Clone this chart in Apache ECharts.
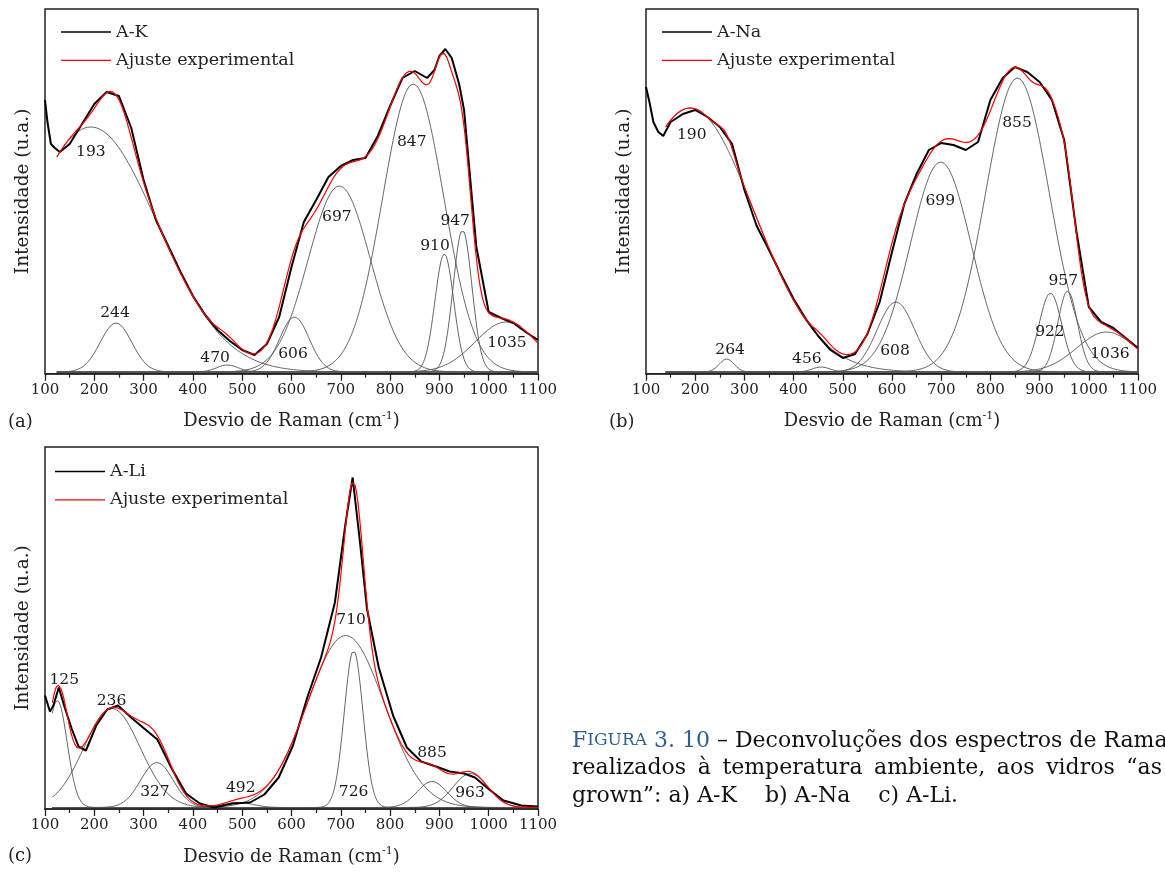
<!DOCTYPE html>
<html><head><meta charset="utf-8">
<script src="https://cdn.jsdelivr.net/npm/echarts@6/dist/echarts.min.js"></script>
<style>html,body{margin:0;padding:0;background:#fff;}#c{width:1165px;height:873px;}</style>
</head><body><div id="c"></div>
<script>
// ---------- DATA (intensities in arbitrary units) ----------
const xTickValues = [100,200,300,400,500,600,700,800,900,1000,1100];

// (a) A-K : fitted Gaussian bands (centre, peak height, sigma)
const aName = 'A-K';
const aCenters = [193,244,470,606,697,847,910,947,1035];
const aHeights = [245,49,7,55,186,288,118,142,50];
const aSigmas  = [135,32,22,30,63,62,19,19,62];
const aFitStart = 124;
const aExpX = [100,105,112,120,130,150,175,200,225,250,275,300,325,350,375,400,425,450,475,500,525,550,575,600,625,650,675,700,725,750,775,800,825,850,875,890,900,912,925,940,950,975,1000,1025,1050,1075,1100];
const aExpY = [272,250,228,224,220,228,248,268,280,276,244,192,152,126,100,76,57,42,31,22,17,28,55,105,150,172,195,206,212,214,236,266,294,301,294,302,316,323,314,288,262,125,60,54,49,40,32];

// (b) A-Na
const bName = 'A-Na';
const bCenters = [190,264,456,608,699,855,922,957,1036];
const bHeights = [264,13,5,70,210,294,79,81,40];
const bSigmas  = [130,15,18,38,62,65,23,20,60];
const bFitStart = 140;
const bExpX = [100,107,115,125,135,150,175,200,225,250,275,300,325,350,375,400,425,450,475,500,525,550,575,600,625,650,675,700,725,750,775,800,825,850,875,900,925,950,975,1000,1025,1050,1075,1100];
const bExpY = [285,270,250,240,236,250,258,262,255,245,228,182,146,122,97,73,53,36,22,14,18,38,70,120,168,198,222,229,227,222,230,272,294,305,300,290,272,232,140,65,50,44,34,24];

// (c) A-Li
const cName = 'A-Li';
const cCenters = [125,236,327,492,710,726,885,963];
const cHeights = [107,99,45,5,172,157,26,34];
const cSigmas  = [20,57,33,30,78,19,30,35];
const cFitStart = 115;
const cExpX = [100,110,117,128,140,154,168,183,204,226,248,277,306,328,357,386,414,443,480,516,545,574,603,632,660,688,709,724,739,753,777,806,834,863,893,921,950,972,1001,1030,1066,1100];
const cExpY = [112,96,102,120,100,79,61,57,82,98,102,89,77,68,39,14,4,0,4,5,13,30,62,110,150,205,282,330,265,199,140,92,60,46,41,36,34,30,18,7,2,1];

// ---------- LAYOUT (positions / styles) ----------
const LAYOUT = {
  grids: [
    {left:45, top:9, width:493, height:364.7, yMin:-1.7, yMax:363},
    {left:646, top:9, width:492, height:364.7, yMin:-1.7, yMax:363},
    {left:45, top:447, width:493, height:362, yMin:-1.5, yMax:360.5}
  ],
  legends: [{left:61, top:22},{left:662, top:22},{left:55, top:461.5}],
  letters: [{x:8, y:424, t:'(a)'},{x:609, y:424, t:'(b)'},{x:8, y:858, t:'(c)'}],
  // band label anchors in data units (x in cm-1, y in intensity units)
  labelPos: [
    [[193,220],[242,59],[445,14],[603,18],[692,155],[844,230],[891,126],[932,151],[1037,29]],
    [[193,237],[271,22],[427,13],[606,21],[698,171],[854,249],[921,40],[948,91],[1043,18]],
    [[139,128],[235,107],[323,16],[497,20],[721,188],[726,16],[885,55],[962,15]]
  ],
  caption: {left:572, right:1162, lines:[741,768,796]}
};

const FONT = '"DejaVu Serif", serif';
const TXT = '#222';

const panels = [
  {name:aName, centers:aCenters, heights:aHeights, sigmas:aSigmas, start:aFitStart, expX:aExpX, expY:aExpY},
  {name:bName, centers:bCenters, heights:bHeights, sigmas:bSigmas, start:bFitStart, expX:bExpX, expY:bExpY},
  {name:cName, centers:cCenters, heights:cHeights, sigmas:cSigmas, start:cFitStart, expX:cExpX, expY:cExpY}
];

function gauss(x,c,h,s){ return h*Math.exp(-((x-c)*(x-c))/(2*s*s)); }

const option = {animation:false, backgroundColor:'#fff', grid:[], xAxis:[], yAxis:[], series:[], legend:[], graphic:[]};

panels.forEach((p,i)=>{
  const g = LAYOUT.grids[i];
  option.grid.push({left:g.left, top:g.top, width:g.width, height:g.height, show:true,
    borderColor:'#222', borderWidth:1.5, backgroundColor:'rgba(0,0,0,0)'});
  option.xAxis.push({gridIndex:i, type:'value', min:xTickValues[0], max:xTickValues[xTickValues.length-1], interval:100,
    axisLine:{show:true, onZero:false, lineStyle:{color:'#222', width:1.5}},
    axisTick:{show:true, inside:false, length:7, lineStyle:{color:'#222', width:1.3}},
    minorTick:{show:true, splitNumber:2, length:4, lineStyle:{color:'#222', width:1.2}},
    splitLine:{show:false}, minorSplitLine:{show:false},
    axisLabel:{fontFamily:FONT, fontSize:15, color:TXT, margin:9, formatter:(v)=>String(v)},
    name:'Desvio de Raman (cm{sup|-1})', nameLocation:'middle', nameGap:37,
    nameTextStyle:{fontFamily:FONT, fontSize:18, color:TXT, lineHeight:22,
      rich:{sup:{fontFamily:FONT, fontSize:11, color:TXT, verticalAlign:'top', lineHeight:22}}}
  });
  option.yAxis.push({gridIndex:i, type:'value', min:g.yMin, max:g.yMax,
    axisLine:{show:false}, axisTick:{show:false}, axisLabel:{show:false}, splitLine:{show:false},
    name:'Intensidade (u.a.)', nameLocation:'middle', nameRotate:90, nameGap:12,
    nameTextStyle:{fontFamily:FONT, fontSize:18.5, color:TXT}
  });

  const xs = [];
  for (let x=p.start; x<=1100; x+=2) xs.push(x);
  const sum = xs.map(()=>0);
  p.centers.forEach((c,k)=>{
    const data = xs.map((x,j)=>{ const v = gauss(x,c,p.heights[k],p.sigmas[k]); sum[j]+=v; return [x,v]; });
    option.series.push({type:'line', xAxisIndex:i, yAxisIndex:i, data, symbol:'none', silent:true,
      lineStyle:{color:'#555', width:0.9}, z:2});
  });
  option.series.push({type:'line', name:p.name, xAxisIndex:i, yAxisIndex:i,
    data:p.expX.map((x,j)=>[x,p.expY[j]]), symbol:'none', silent:true,
    lineStyle:{color:'#000', width:2}, itemStyle:{color:'#000'}, z:3});
  option.series.push({type:'line', name:'Ajuste experimental', xAxisIndex:i, yAxisIndex:i,
    data:xs.map((x,j)=>[x,sum[j]]), symbol:'none', silent:true,
    lineStyle:{color:'#ff0000', width:1.2}, itemStyle:{color:'#ff0000'}, z:4});
  option.series.push({type:'scatter', xAxisIndex:i, yAxisIndex:i, symbolSize:1, silent:true,
    itemStyle:{color:'rgba(0,0,0,0)'}, z:5,
    data:LAYOUT.labelPos[i].map((pos,k)=>[pos[0],pos[1],String(p.centers[k])]),
    label:{show:true, position:'inside', formatter:(d)=>d.value[2], fontFamily:FONT, fontSize:15.5,
      color:'#1a1a1a', opacity:1, textBorderWidth:0, textShadowBlur:0}
  });
  const lg = LAYOUT.legends[i];
  option.legend.push({data:[p.name,'Ajuste experimental'], left:lg.left, top:lg.top, orient:'vertical',
    padding:0, itemWidth:50, itemHeight:1.4, itemGap:8.4, selectedMode:false, icon:'rect',
    textStyle:{fontFamily:FONT, fontSize:17.5, color:TXT, lineHeight:20}});
  const lt = LAYOUT.letters[i];
  option.graphic.push({type:'text', left:lt.x, top:lt.y-11, style:{text:lt.t, font:'18px '+FONT, fill:TXT}});
});

// caption
const BLUE = '#2f5f92';
const CAP = LAYOUT.caption;
const CFS = 22;
option.graphic.push({type:'text', left:CAP.left, top:CAP.lines[0]-11, silent:true, style:{
  text:'{b|F}{s|IGURA} {b|3. 10} – Deconvoluções dos espectros de Raman',
  font:CFS+'px '+FONT, fill:'#111',
  rich:{b:{fill:BLUE, fontSize:CFS, fontFamily:FONT}, s:{fill:BLUE, fontSize:17, fontFamily:FONT}}
}});
// justified second line
(function(){
  const words = ['realizados','à','temperatura','ambiente,','aos','vidros','“as'];
  const ctx = document.createElement('canvas').getContext('2d');
  ctx.font = CFS+'px "DejaVu Serif"';
  const ws = words.map(w=>ctx.measureText(w).width);
  const total = ws.reduce((a,b)=>a+b,0);
  const gap = (CAP.right-CAP.left-total)/(words.length-1);
  let x = CAP.left;
  words.forEach((w,k)=>{
    option.graphic.push({type:'text', left:x, top:CAP.lines[1]-11, silent:true, style:{text:w, font:CFS+'px '+FONT, fill:'#111'}});
    x += ws[k]+gap;
  });
})();
option.graphic.push({type:'text', left:CAP.left, top:CAP.lines[2]-11, silent:true, style:{
  text:'grown”: a) A-K    b) A-Na    c) A-Li.', font:CFS+'px '+FONT, fill:'#111'}});

const chart = echarts.init(document.getElementById('c'), null, {renderer:'canvas'});
chart.setOption(option);
</script></body></html>
